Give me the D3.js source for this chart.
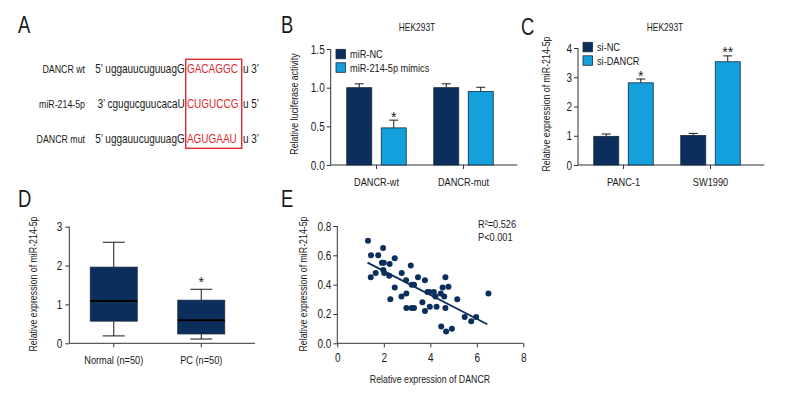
<!DOCTYPE html>
<html><head><meta charset="utf-8">
<script src="https://cdn.jsdelivr.net/npm/d3@7/dist/d3.min.js"></script>
<style>
html,body{margin:0;padding:0;background:#fff;}
svg{display:block;}
text{font-family:"Liberation Sans",Arial,sans-serif;fill:#1a1a1a;}
</style></head>
<body>
<svg id="c" width="792" height="408"></svg>
<script>
// ---------- DATA ----------
const seqLabels = ["DANCR wt", "miR-214-5p", "DANCR mut"];
const seqPre    = ["5\u2019 uggauucuguuagG", "3\u2019 cgugucguucacaU", "5\u2019 uggauucuguuagG"];
const seqCore   = ["GACAGGC", "CUGUCCG", "AGUGAAU"];
const seqPost   = ["u 3\u2019", "u 5\u2019", "u 3\u2019"];

const bCategories = ["DANCR-wt", "DANCR-mut"];
const bSeries = ["miR-NC", "miR-214-5p mimics"];
const bValues = [[1.00, 0.48], [1.00, 0.95]];
const bErrors = [[0.05, 0.10], [0.05, 0.055]];
const bStars  = [["", "*"], ["", ""]];
const bTicks  = [0.0, 0.5, 1.0, 1.5];

const cCategories = ["PANC-1", "SW1990"];
const cSeries = ["si-NC", "si-DANCR"];
const cValues = [[0.98, 2.81], [1.01, 3.53]];
const cErrors = [[0.08, 0.13], [0.07, 0.20]];
const cStars  = [["", "*"], ["", "**"]];
const cTicks  = [0, 1, 2, 3, 4];

const dCategories = ["Normal (n=50)", "PC (n=50)"];
const dMin = [0.19, 0.11];
const dQ1  = [0.57, 0.24];
const dMed = [1.09, 0.59];
const dQ3  = [1.96, 1.11];
const dMax = [2.60, 1.39];
const dStars = ["", "*"];
const dTicks = [0, 1, 2, 3];

const eX = [1.32,1.45,1.44,1.65,1.76,1.92,1.97,2.00,1.98,2.02,2.23,2.25,2.28,2.47,2.47,2.77,2.76,2.96,2.97,2.97,
            3.16,3.20,3.20,3.30,3.30,3.47,3.66,3.77,3.77,3.88,3.96,3.98,4.15,4.22,4.27,4.45,4.47,4.53,4.60,4.65,
            4.65,4.68,4.78,4.93,5.16,5.48,5.76,5.97,6.50];
const eY = [0.70,0.60,0.45,0.48,0.60,0.55,0.65,0.55,0.50,0.48,0.46,0.54,0.30,0.58,0.38,0.48,0.32,0.43,0.34,0.24,
            0.53,0.40,0.24,0.40,0.24,0.45,0.28,0.43,0.22,0.35,0.35,0.25,0.35,0.32,0.25,0.34,0.115,0.38,0.32,0.45,
            0.24,0.08,0.385,0.10,0.30,0.18,0.15,0.18,0.34];
const eFitX = [1.30, 6.45];
const eFitY = [0.55, 0.13];
const eXTicks = [0, 2, 4, 6, 8];
const eYTicks = [0.0, 0.2, 0.4, 0.6, 0.8];
const eStats = ["R\u00b2=0.526", "P<0.001"];

// ---------- STYLE ----------
const DARK = "#0c2e5c", LIGHT = "#13a0dd", RED = "#dc2a2e", AX = "#333";
const FONT = '"Liberation Sans",Arial,sans-serif';
const NARROW = 0.8;
const svg = d3.select("#c");
svg.append("rect").attr("width",792).attr("height",408).attr("fill","#fff");

function panelLabel(t, x, y){
  svg.append("text").attr("x",x).attr("y",y).attr("font-size",23).text(t);
}
function star(t, x, y){
  svg.append("text").attr("class","star").attr("x",x).attr("y",y).attr("text-anchor","middle")
    .attr("font-size",14).text(t);
}
function styleAxis(g, fs){
  g.selectAll("path.domain").remove();
  g.selectAll(".tick line").attr("stroke",AX);
  g.selectAll(".tick text").attr("font-size",fs).attr("fill","#1a1a1a").style("font-family",FONT);
}
function hLine(x1,x2,y){ svg.append("line").attr("x1",x1).attr("x2",x2).attr("y1",y).attr("y2",y).attr("stroke",AX); }
function vLine(x,y1,y2){ svg.append("line").attr("x1",x).attr("x2",x).attr("y1",y1).attr("y2",y2).attr("stroke",AX); }
function yTitle(t, x, yc){
  svg.append("text").attr("transform",`translate(${x},${yc}) rotate(-90)`).attr("text-anchor","middle")
    .attr("font-size",11).text(t);
}

// ---------- PANEL A ----------
panelLabel("A", 18, 33);
const rowY = d3.scalePoint().domain(seqLabels).range([72.7, 142.7]);
const boxL = 185.7, boxR = 241.7;
// narrow group: local x = page x / NARROW
const gA = svg.append("g").attr("transform",`scale(${NARROW},1)`);
seqLabels.forEach((lab,i)=>{
  const y = rowY(lab);
  gA.append("text").attr("class","seq").attr("x",85/NARROW).attr("y",y).attr("text-anchor","end").attr("font-size",11).text(lab);
  gA.append("text").attr("class","seq").attr("x",(boxL-1)/NARROW).attr("y",y).attr("text-anchor","end").attr("font-size",12.5).text(seqPre[i]);
  gA.append("text").attr("class","seq").attr("x",(boxL+1.2)/NARROW).attr("y",y).attr("font-size",12.5).style("fill",RED).text(seqCore[i]);
  gA.append("text").attr("class","seq").attr("x",(boxR+1.2)/NARROW).attr("y",y).attr("font-size",12.5).text(seqPost[i]);
});
svg.append("rect").attr("x",boxL).attr("y",59.3).attr("width",boxR-boxL).attr("height",89)
  .attr("fill","none").attr("stroke",RED).attr("stroke-width",1.4);

// ---------- BAR PANEL helper ----------
function barPanel(opt){
  const y = d3.scaleLinear().domain(opt.domain).range([165, opt.yTop]);
  const x = d3.scaleBand().domain(opt.cats).range(opt.bandRange);
  const sub = d3.scaleBand().domain(opt.series).range([-29.75, 29.75]).paddingInner(0.275);
  const cols = [DARK, LIGHT];
  const ya = svg.append("g").attr("transform",`translate(${opt.axisL},0)`)
    .call(d3.axisLeft(y).tickValues(opt.ticks).tickFormat(opt.fmt).tickSize(4).tickPadding(2));
  styleAxis(ya, 12.5);
  vLine(opt.axisL, y(opt.domain[1]), 165);
  const xa = svg.append("g").attr("transform","translate(0,165)")
    .call(d3.axisBottom(x).tickSize(4).tickPadding(9));
  styleAxis(xa, 11.5);
  hLine(opt.axisL, opt.axisR, 165);
  opt.cats.forEach((c,i)=>{
    opt.series.forEach((s,j)=>{
      const cx = x(c) + x.bandwidth()/2 + sub(s);
      const v = opt.values[i][j], e = opt.errors[i][j];
      const bw = sub.bandwidth();
      const mid = cx + bw/2;
      svg.append("line").attr("x1",mid).attr("x2",mid).attr("y1",y(v)).attr("y2",y(v+e)).attr("stroke","#1a1a1a");
      svg.append("line").attr("x1",mid-4.5).attr("x2",mid+4.5).attr("y1",y(v+e)).attr("y2",y(v+e)).attr("stroke","#1a1a1a");
      svg.append("rect").attr("x",cx).attr("y",y(v)).attr("width",bw).attr("height",165-y(v))
        .attr("fill",cols[j]).attr("stroke","#1a2a3a").attr("stroke-width",0.8);
      if(opt.stars[i][j]) star(opt.stars[i][j], mid, y(v+e)+1.5);
    });
  });
  opt.series.forEach((s,j)=>{
    const ly = opt.legY + j*13.5;
    svg.append("rect").attr("x",opt.legX).attr("y",ly).attr("width",9.5).attr("height",9.5)
      .attr("fill",cols[j]).attr("stroke","#1a2a3a").attr("stroke-width",0.8);
    svg.append("text").attr("x",opt.legX+14).attr("y",ly+9).attr("font-size",11.5).text(s);
  });
  svg.append("text").attr("x",opt.titleX).attr("y",31).attr("text-anchor","middle").attr("font-size",10.5).text("HEK293T");
  yTitle(opt.yTitle, opt.yTitleX, 104);
}

// ---------- PANEL B ----------
panelLabel("B", 281, 33);
barPanel({domain:[0,1.5], yTop:49, cats:bCategories, series:bSeries, values:bValues, errors:bErrors, stars:bStars,
  ticks:bTicks, fmt:d3.format(".1f"), axisL:330.7, axisR:517.3, bandRange:[333,507],
  legX:336, legY:49.3, titleX:417, yTitle:"Relative luciferase activity", yTitleX:298});

// ---------- PANEL C ----------
panelLabel("C", 521, 35);
barPanel({domain:[0,4], yTop:48, cats:cCategories, series:cSeries, values:cValues, errors:cErrors, stars:cStars,
  ticks:cTicks, fmt:d3.format("d"), axisL:578, axisR:764.3, bandRange:[580,754],
  legX:583, legY:42.3, titleX:665, yTitle:"Relative expression of miR-214-5p", yTitleX:550});

// ---------- PANEL D ----------
panelLabel("D", 18, 207);
(function(){
  const y = d3.scaleLinear().domain([0,3]).range([343.3,226.7]);
  const x = d3.scaleBand().domain(dCategories).range([70,245]);
  const ya = svg.append("g").attr("transform","translate(69.3,0)")
    .call(d3.axisLeft(y).tickValues(dTicks).tickFormat(d3.format("d")).tickSize(4).tickPadding(3));
  styleAxis(ya, 12.5);
  vLine(69.3, 226.7, 343.3);
  const xa = svg.append("g").attr("transform","translate(0,343.3)")
    .call(d3.axisBottom(x).tickSize(4).tickPadding(9));
  styleAxis(xa, 11.5);
  hLine(69.3, 255, 343.3);
  const bw = 47;
  dCategories.forEach((c,i)=>{
    const cx = x(c) + x.bandwidth()/2;
    svg.append("line").attr("x1",cx).attr("x2",cx).attr("y1",y(dMax[i])).attr("y2",y(dMin[i])).attr("stroke","#1a1a1a");
    [dMax[i], dMin[i]].forEach(v=>svg.append("line").attr("x1",cx-11).attr("x2",cx+11).attr("y1",y(v)).attr("y2",y(v)).attr("stroke","#1a1a1a"));
    svg.append("rect").attr("x",cx-bw/2).attr("y",y(dQ3[i])).attr("width",bw).attr("height",y(dQ1[i])-y(dQ3[i]))
      .attr("fill",DARK).attr("stroke","#1a2a3a").attr("stroke-width",0.8);
    svg.append("line").attr("x1",cx-bw/2).attr("x2",cx+bw/2).attr("y1",y(dMed[i])).attr("y2",y(dMed[i]))
      .attr("stroke","#000").attr("stroke-width",2);
    if(dStars[i]) star(dStars[i], cx, y(dMax[i])-2);
  });
  yTitle("Relative expression of miR-214-5p", 37, 284);
})();

// ---------- PANEL E ----------
panelLabel("E", 281, 207);
(function(){
  const x = d3.scaleLinear().domain([0,8]).range([337.3,523.3]);
  const y = d3.scaleLinear().domain([0,0.8]).range([343.3,226]);
  const ya = svg.append("g").attr("transform","translate(337.3,0)")
    .call(d3.axisLeft(y).tickValues(eYTicks).tickFormat(d3.format(".1f")).tickSize(4).tickPadding(2));
  styleAxis(ya, 12.5);
  vLine(337.3, 226, 343.3);
  const xa = svg.append("g").attr("transform","translate(0,343.3)")
    .call(d3.axisBottom(x).tickValues(eXTicks).tickFormat(d3.format("d")).tickSize(4).tickPadding(6));
  styleAxis(xa, 12.5);
  hLine(337.3, 523.3, 343.3);
  svg.append("line").attr("x1",x(eFitX[0])).attr("y1",y(eFitY[0])).attr("x2",x(eFitX[1])).attr("y2",y(eFitY[1]))
    .attr("stroke",DARK).attr("stroke-width",1.8);
  svg.selectAll("circle.pt").data(eX).enter().append("circle").attr("class","pt")
    .attr("cx",(d)=>x(d)).attr("cy",(d,i)=>y(eY[i])).attr("r",3).attr("fill",DARK);
  svg.append("text").attr("x",478).attr("y",228).attr("font-size",11.5).text(eStats[0]);
  svg.append("text").attr("x",478).attr("y",241).attr("font-size",11.5).text(eStats[1]);
  yTitle("Relative expression of miR-214-5p", 307, 284);
  svg.append("text").attr("x",430).attr("y",383).attr("text-anchor","middle").attr("font-size",11).text("Relative expression of DANCR");
})();

// ---------- condense texts horizontally (narrow typeface look) ----------
svg.selectAll("text").each(function(){
  const el = this;
  const cls = el.getAttribute("class");
  if (el.getAttribute("textLength") || cls === "star" || cls === "seq") return;
  const len = el.getComputedTextLength();
  if (len > 0) {
    el.setAttribute("textLength", (len*NARROW).toFixed(2));
    el.setAttribute("lengthAdjust","spacingAndGlyphs");
  }
});
</script>
</body></html>
